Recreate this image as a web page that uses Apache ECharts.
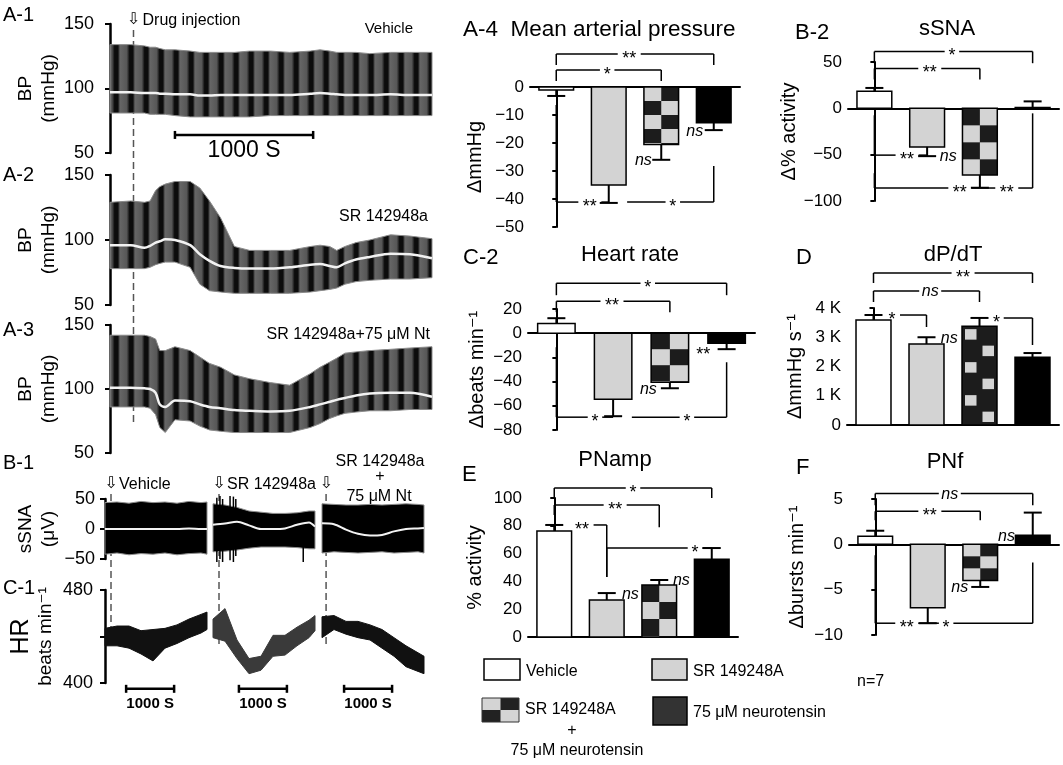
<!DOCTYPE html>
<html>
<head>
<meta charset="utf-8">
<script src="https://cdn.jsdelivr.net/npm/echarts@6/dist/echarts.min.js"></script>
<style>
  html, body { margin: 0; padding: 0; background: #fff; }
  #chart { width: 1063px; height: 765px; }
</style>
</head>
<body>
<div id="chart"></div>
<script>
const FONT = '"Liberation Sans", Arial, "DejaVu Sans", sans-serif'

// ---- BP traces (A-1..A-3): time (s), upper / lower envelope and mean (mmHg)
const BP_T = [0, 150, 250, 290, 330, 360, 400, 470, 580, 650, 720, 800, 900, 1010, 1160, 1300, 1450, 1520, 1590, 1640, 1700, 1780, 1880, 2030, 2170, 2330]
const A1_UP = [134, 134, 133, 132, 132, 131, 130, 130, 129, 128, 128, 128, 128, 129, 129, 128, 129, 130, 129, 128, 128, 128, 127, 128, 128, 128]
const A1_LO = [81, 81, 81, 80, 80, 80, 80, 79, 78, 78, 78, 78, 78, 78, 79, 79, 79, 79, 79, 79, 79, 79, 79, 79, 79, 79]
const A1_MN = [97, 97, 96.5, 96.5, 96.5, 96, 96, 95.5, 95.5, 94.5, 94.5, 95, 95, 95, 95, 95, 96, 96.5, 96, 95.5, 95, 95, 95, 95.5, 95, 95]
const A2_UP = [129, 130, 129, 130, 138, 141, 143, 145, 145, 140, 130, 117, 95, 92, 92, 92, 95, 96, 95, 92, 95, 98, 100, 104, 103, 101]
const A2_LO = [78, 78, 78, 79, 81, 82, 83, 83, 79, 66, 61, 60, 59, 59, 59, 59, 60, 61, 62, 63, 66, 68, 69, 70, 70, 71]
const A2_MN = [96, 96, 94, 95.5, 98, 99, 100.5, 100, 96, 89, 84, 80, 78.5, 78, 78, 79, 81, 81.5, 80, 79, 82, 85, 87, 89.5, 89, 86]
const A3_UP = [142, 142, 142, 141, 139, 130, 130, 133, 130, 125, 120, 117, 111, 108, 105, 103, 112, 117, 121, 124, 128, 129, 130, 131, 132, 133]
const A3_LO = [86, 86, 86, 85, 80, 70, 66, 76, 75, 71, 68, 67, 66, 66, 66, 66, 70, 73, 77, 79, 81, 82, 83, 83, 84, 84]
const A3_MN = [101, 101, 100.5, 100, 97, 88, 86, 91, 90.5, 88, 86, 85, 83.5, 83, 82.5, 83, 86, 88, 90, 91.5, 93, 95, 96.5, 97, 97, 94]
const INJECT_A = 170
const SCALE_A = [470, 1470]

// ---- sSNA (B-1) and HR (C-1) segments: time (s)
const SEG_T = [0, 250, 500, 750, 1000, 1250, 1500, 1750, 2000, 2125]
const SSNA1_UP = [44, 45, 43, 46, 44, 45, 43, 46, 44, 45]
const SSNA1_LO = [-42, -40, -43, -41, -42, -40, -43, -41, -40, -42]
const SSNA1_MN = [0, 0, 0, 0, 0, 0, 0, 1, 0, 0]
const SSNA2_UP = [42, 40, 36, 30, 28, 26, 26, 27, 30, 30]
const SSNA2_LO = [-38, -37, -35, -32, -30, -30, -30, -31, -33, -33]
const SSNA2_MN = [7, 9, 12, 6, 0, 0, 1, 7, 11, 4]
const SSNA2_SPIKES = [[80, 52, -55], [145, 55, -50], [200, 50, -55], [355, 55, -52], [425, 54, -55], [475, 50, -45], [1880, 18, -55]]
const SSNA3_UP = [42, 41, 40, 40, 41, 40, 41, 42, 41, 40]
const SSNA3_LO = [-40, -38, -39, -40, -39, -38, -40, -39, -38, -40]
const SSNA3_MN = [9.5, 8, -1, -8, -11, -10, -4, 0, 1, 1.5]
const HR1_UP = [447, 449, 449, 445, 446, 447, 450, 455, 459, 461]
const HR1_LO = [432, 432, 430, 425, 419, 430, 434, 439, 443, 446]
const HR2_UP = [455, 464, 437, 421, 423, 441, 441, 448, 454, 458]
const HR2_LO = [439, 436, 421, 408, 411, 423, 424, 432, 439, 445]
const HR3_UP = [457, 458, 453, 453, 450, 446, 439, 432, 426, 423]
const HR3_LO = [439, 446, 442, 439, 437, 430, 423, 414, 410, 408]
const INJECT_B = [125, 125, 85]
const SCALE_C = [[440, 1440], [540, 1540], [460, 1460]]

// ---- group bars: mean, error end; brackets [x1, x2, y, leg1, leg2, labelPos, label]; notes [x, y, text, align]
const MAP_MEAN = [-1.1, -35, -20.5, -12.8]
const MAP_ERR = [-3.2, -41.4, -26, -15.4]
const MAP_SIG = [[0, 3, 11.8, 7.9, 7.9, 1.39, '**'], [0, 2, 6.1, 2.1, 2.1, 0.97, '*'], [0, 1, -41.1, -6.4, null, 0.64, '**'], [1.35, 3, -41.1, null, -28.2, 2.22, '*']]
const MAP_NOTES = [[1.82, -26, 'ns', 'right'], [2.8, -15.4, 'ns', 'right']]

const SSNA_MEAN = [18.5, -41.6, -72, 0.8]
const SSNA_ERR = [22, -51.6, -85.7, 7.5]
const SSNA_SIG = [[0, 3, 61.3, 48.7, 48.7, 1.47, '*'], [0, 2, 43, 31.2, 31.2, 1.05, '**'], [0, 1, -50.5, -7.5, null, 0.62, '**'], [0, 2, -86, -70, null, 1.62, '**'], [2, 3, -86, null, -5.4, 2.51, '**']]
const SSNA_NOTES = [[1.24, -51, 'ns', 'left']]

const HR_MEAN = [8, -54.5, -40.5, -8.3]
const HR_ERR = [12.4, -68.6, -45.5, -13.2]
const HR_SIG = [[0, 3, 41.3, 31.4, 31.4, 1.61, '*'], [0, 2, 26.4, 17.4, 17.4, 0.98, '**'], [0, 1, -69.4, -11.6, null, 0.68, '*'], [1.33, 3, -69.4, null, -24, 2.3, '*']]
const HR_NOTES = [[1.77, -45.5, 'ns', 'right'], [2.71, -13.5, '**', 'right']]

const DPDT_MEAN = [3590, 2770, 3380, 2320]
const DPDT_ERR = [3760, 3000, 3660, 2460]
const DPDT_SIG = [[0, 3, 5197, 4855, 4855, 1.69, '**'], [0, 2, 4581, 4205, 4205, 1.07, 'ns'], [0.5, 1, 3760, null, 3350, 0.35, '*'], [2.44, 3, 3658, null, 2735, 2.32, '*']]
const DPDT_NOTES = [[1.27, 3000, 'ns', 'left']]

const PNAMP_MEAN = [76.3, 26.6, 37.4, 56]
const PNAMP_ERR = [80.6, 31.6, 41, 64]
const PNAMP_SIG = [[0, 3, 107.2, 100, 100, 1.5, '*'], [0, 2, 95, 87.8, 79, 1.16, '**'], [0.53, 1, 80.6, null, 43.2, 0.53, '**'], [1, 3, 64, 43.2, null, 2.68, '*']]
const PNAMP_NOTES = [[1.29, 31.6, 'ns', 'left'], [2.26, 41, 'ns', 'left']]

const PNF_MEAN = [0.9, -7, -4, 1]
const PNF_ERR = [1.5, -8.7, -4.7, 3.5]
const PNF_SIG = [[0, 3, 5.6, 4.3, 4.3, 1.42, 'ns'], [0, 2, 3.64, 2.65, 2.65, 1.04, '**'], [0, 1, -8.7, -1.2, null, 0.6, '**'], [1, 3, -8.7, null, -2, 1.35, '*']]
const PNF_NOTES = [[1.77, -4.7, 'ns', 'right'], [2.66, 1, 'ns', 'right']]

const PANELS = [
  { left: 530, top: 87, width: 210, height: 140, min: -50, max: 0, interval: 10, mean: MAP_MEAN, err: MAP_ERR, sig: MAP_SIG, notes: MAP_NOTES, name: 'ΔmmHg', nameGap: 45, cellH: 14, start: 0, inset: 0 },
  { left: 848, top: 62, width: 211, height: 139, min: -100, max: 50, interval: 50, mean: SSNA_MEAN, err: SSNA_ERR, sig: SSNA_SIG, notes: SSNA_NOTES, name: 'Δ% activity', nameGap: 45, cellH: 17, start: 1, inset: 0 },
  { left: 528, top: 309, width: 227, height: 121, min: -80, max: 20, interval: 20, mean: HR_MEAN, err: HR_ERR, sig: HR_SIG, notes: HR_NOTES, name: 'Δbeats min⁻¹', nameGap: 41, cellH: 16, start: 1, inset: 0 },
  { left: 847, top: 308, width: 212, height: 117, min: 0, max: 4000, interval: 1000, mean: DPDT_MEAN, err: DPDT_ERR, sig: DPDT_SIG, notes: DPDT_NOTES, name: 'ΔmmHg s⁻¹', nameGap: 42, cellH: 16.5, start: 0, inset: 3, kilo: true },
  { left: 528, top: 498, width: 210, height: 139, min: 0, max: 100, interval: 20, mean: PNAMP_MEAN, err: PNAMP_ERR, sig: PNAMP_SIG, notes: PNAMP_NOTES, name: '% activity', nameGap: 43, cellH: 17, start: 1, inset: 0 },
  { left: 849, top: 499, width: 210, height: 136, min: -10, max: 5, interval: 5, mean: PNF_MEAN, err: PNF_ERR, sig: PNF_SIG, notes: PNF_NOTES, name: 'Δbursts min⁻¹', nameGap: 42, cellH: 12, start: 0, inset: 0 }
]

function stripeImage () {
  const c = document.createElement('canvas')
  c.width = 15
  c.height = 10
  const g = c.getContext('2d')
  const grad = g.createLinearGradient(0, 0, 15, 0)
  grad.addColorStop(0, '#666')
  grad.addColorStop(0.45, '#575757')
  grad.addColorStop(0.64, '#0c0c0c')
  grad.addColorStop(0.86, '#0c0c0c')
  grad.addColorStop(1, '#666')
  g.fillStyle = grad
  g.fillRect(0, 0, 15, 10)
  return c
}
const STRIPES = { image: stripeImage(), repeat: 'repeat' }

const minus = v => (v < 0 ? '−' + Math.abs(v) : String(v))

const grid = [
  { left: 110, top: 24, width: 322, height: 129 },
  { left: 110, top: 175, width: 322, height: 130 },
  { left: 110, top: 325, width: 322, height: 128 },
  { left: 105, top: 499, width: 102, height: 60 },
  { left: 213, top: 499, width: 102, height: 60 },
  { left: 322, top: 499, width: 102, height: 60 },
  { left: 105, top: 590, width: 102, height: 93 },
  { left: 213, top: 590, width: 102, height: 93 },
  { left: 322, top: 590, width: 102, height: 93 }
]
PANELS.forEach(p => grid.push({ left: p.left, top: p.top, width: p.width, height: p.height }))

const xAxis = []
const yAxis = []
const series = []

function traceY (gi, min, max, interval, show, extra) {
  return Object.assign({
    gridIndex: gi, type: 'value', min, max, interval, show,
    axisLine: { show: true, lineStyle: { color: '#000', width: 2.5 } },
    axisTick: { show: true, length: 5, lineStyle: { color: '#000', width: 2 } },
    axisLabel: { fontSize: 18, color: '#000', fontFamily: FONT, margin: 5, formatter: minus },
    splitLine: { show: false },
    nameLocation: 'middle',
    nameTextStyle: { fontSize: 19, color: '#000', fontFamily: FONT, lineHeight: 23 }
  }, extra)
}

// envelope band: polygon through upper points then lower points (reversed)
function band (gi, t, up, lo, fill, edge) {
  return {
    type: 'custom', xAxisIndex: gi, yAxisIndex: gi, silent: true, clip: false, z: 1,
    data: [[t[0], up[0]]],
    renderItem: (params, api) => {
      const pts = t.map((x, i) => api.coord([x, up[i]]))
      for (let i = t.length - 1; i >= 0; i--) pts.push(api.coord([t[i], lo[i]]))
      return { type: 'polygon', shape: { points: pts }, style: { fill, stroke: edge, lineWidth: 1 } }
    }
  }
}

function meanLine (gi, t, mn, width) {
  return { type: 'line', xAxisIndex: gi, yAxisIndex: gi, data: t.map((x, i) => [x, mn[i]]), symbol: 'none', smooth: 0.3, lineStyle: { color: '#f2f2f2', width }, silent: true, z: 3 }
}

// A-1 .. A-3
const BP = [[A1_UP, A1_LO, A1_MN], [A2_UP, A2_LO, A2_MN], [A3_UP, A3_LO, A3_MN]]
BP.forEach((d, gi) => {
  xAxis.push({ gridIndex: gi, type: 'value', min: 0, max: 2330, show: false })
  yAxis.push(traceY(gi, 50, 150, 50, true, { offset: 11, name: 'BP\n(mmHg)', nameGap: 37 }))
  series.push(band(gi, BP_T, d[0], d[1], STRIPES, '#8a8a8a'))
  series.push(meanLine(gi, BP_T, d[2], 2.5))
})

// B-1
const SSNA = [[SSNA1_UP, SSNA1_LO, SSNA1_MN], [SSNA2_UP, SSNA2_LO, SSNA2_MN], [SSNA3_UP, SSNA3_LO, SSNA3_MN]]
SSNA.forEach((d, k) => {
  const gi = 3 + k
  xAxis.push({ gridIndex: gi, type: 'value', min: 0, max: 2125, show: false })
  yAxis.push(traceY(gi, -50, 50, 50, k === 0, { offset: 5, name: 'sSNA\n(μV)', nameGap: 35 }))
  series.push(band(gi, SEG_T, d[0], d[1], '#000', '#8c8c8c'))
  series.push(meanLine(gi, SEG_T, d[2], 2))
})
series.push({
  type: 'custom', xAxisIndex: 4, yAxisIndex: 4, data: SSNA2_SPIKES, silent: true, z: 2,
  renderItem: (params, api) => {
    const a = api.coord([api.value(0), api.value(1)])
    const b = api.coord([api.value(0), api.value(2)])
    return { type: 'line', shape: { x1: a[0], y1: a[1], x2: b[0], y2: b[1] }, style: { stroke: '#000', lineWidth: 1.5 } }
  }
})

// C-1
const HR = [[HR1_UP, HR1_LO, '#111'], [HR2_UP, HR2_LO, '#3a3a3a'], [HR3_UP, HR3_LO, '#111']]
HR.forEach((d, k) => {
  const gi = 6 + k
  xAxis.push({ gridIndex: gi, type: 'value', min: 0, max: 2125, show: false })
  yAxis.push(traceY(gi, 400, 480, 40, k === 0, {
    offset: 7,
    name: '{a|HR}\n{b|beats min⁻¹}',
    nameGap: 41,
    axisLabel: { fontSize: 18, color: '#000', fontFamily: FONT, margin: 5, formatter: v => (v === 440 ? '' : String(v)) },
    nameTextStyle: { color: '#000', fontFamily: FONT, rich: { a: { fontSize: 25, fontFamily: FONT, lineHeight: 28 }, b: { fontSize: 19, fontFamily: FONT, lineHeight: 22 } } }
  }))
  series.push(band(gi, SEG_T, d[0], d[1], d[2], d[2]))
})

// bar panels
function labelWidth (s) { return s === 'ns' ? 16 : s.length * 8.5 }
function textStyle (s, x, y, align) {
  const star = s.indexOf('*') >= 0
  return {
    text: s, x, y: y + (star ? 5 : 1), align, verticalAlign: 'middle', fill: '#000',
    fontSize: star ? 18 : 16, fontStyle: star ? 'normal' : 'italic', fontFamily: FONT
  }
}

function barRender (p) {
  return (params, api) => {
    const i = api.value(0)
    const a = api.coord([i, 0])
    const b = api.coord([i, api.value(1)])
    const bw = api.size([1, 0])[0] * 0.66
    const x = a[0] - bw / 2
    const y = Math.min(a[1], b[1])
    const h = Math.abs(b[1] - a[1])
    const fills = ['#fff', '#d3d3d3', '#1c1c1c', '#000']
    const children = [{ type: 'rect', shape: { x, y, width: bw, height: h }, style: { fill: fills[i] } }]
    if (i === 2) {
      const cw = bw / 2
      const rows = Math.ceil(h / p.cellH)
      for (let r = 0; r < rows; r++) {
        for (let c = 0; c < 2; c++) {
          if ((r + c + p.start) % 2 !== 0) continue
          const cy = y + r * p.cellH
          const ch = Math.min(p.cellH, y + h - cy)
          const ins = p.inset
          children.push({ type: 'rect', shape: { x: x + c * cw + ins, y: cy + ins, width: cw - 2 * ins, height: Math.max(0, ch - 2 * ins) }, style: { fill: '#d4d4d4' } })
        }
      }
    }
    children.push({ type: 'rect', shape: { x, y, width: bw, height: h }, style: { fill: 'none', stroke: '#000', lineWidth: 1.5 } })
    return { type: 'group', children }
  }
}

function errRender (params, api) {
  const i = api.value(0)
  const a = api.coord([i, api.value(1)])
  const b = api.coord([i, api.value(2)])
  const st = { stroke: '#000', lineWidth: 2 }
  return {
    type: 'group',
    children: [
      { type: 'line', shape: { x1: a[0], y1: a[1], x2: b[0], y2: b[1] }, style: st },
      { type: 'line', shape: { x1: b[0] - 9, y1: b[1], x2: b[0] + 9, y2: b[1] }, style: st }
    ]
  }
}

function sigRender (p) {
  return (params, api) => {
    const [x1, x2, yv, leg1, leg2, lp, label] = p.sig[params.dataIndex]
    const a = api.coord([x1, yv])
    const b = api.coord([x2, yv])
    const lx = api.coord([lp, yv])[0]
    const w = labelWidth(label)
    const g0 = lx - w / 2 - 3
    const g1 = lx + w / 2 + 3
    const st = { stroke: '#000', lineWidth: 1.5 }
    const children = []
    const seg = (u, v) => { if (v > u) children.push({ type: 'line', shape: { x1: u, y1: a[1], x2: v, y2: a[1] }, style: st }) }
    seg(a[0], Math.min(g0, b[0]))
    seg(Math.max(g1, a[0]), b[0])
    if (leg1 !== null) {
      const c = api.coord([x1, leg1])
      children.push({ type: 'line', shape: { x1: a[0], y1: a[1], x2: c[0], y2: c[1] }, style: st })
    }
    if (leg2 !== null) {
      const c = api.coord([x2, leg2])
      children.push({ type: 'line', shape: { x1: b[0], y1: b[1], x2: c[0], y2: c[1] }, style: st })
    }
    children.push({ type: 'text', style: textStyle(label, lx, a[1], 'center') })
    return { type: 'group', children }
  }
}

function noteRender (p) {
  return (params, api) => {
    const [xc, yv, txt, align] = p.notes[params.dataIndex]
    const c = api.coord([xc, yv])
    return { type: 'text', style: textStyle(txt, c[0], c[1], align) }
  }
}

PANELS.forEach((p, k) => {
  const gi = 9 + k
  xAxis.push({
    gridIndex: gi, type: 'value', min: -0.5, max: 3.5,
    axisLine: { show: true, onZero: true, lineStyle: { color: '#000', width: 2 } },
    axisTick: { show: false }, axisLabel: { show: false }, splitLine: { show: false }
  })
  yAxis.push({
    gridIndex: gi, type: 'value', min: p.min, max: p.max, interval: p.interval,
    axisLine: { show: true, lineStyle: { color: '#000', width: 2 } },
    axisTick: { show: true, length: 4, lineStyle: { color: '#000', width: 2 } },
    axisLabel: { fontSize: 17, color: '#000', fontFamily: FONT, margin: 6, formatter: p.kilo ? v => (v === 0 ? '0' : v / 1000 + ' K') : minus },
    splitLine: { show: false },
    name: p.name, nameLocation: 'middle', nameGap: p.nameGap,
    nameTextStyle: { fontSize: 20, color: '#000', fontFamily: FONT }
  })
  const common = { type: 'custom', xAxisIndex: gi, yAxisIndex: gi, clip: false, silent: true }
  series.push(Object.assign({ data: p.mean.map((v, i) => [i, v]), renderItem: barRender(p) }, common))
  series.push(Object.assign({ data: p.mean.map((v, i) => [i, v, p.err[i]]), renderItem: errRender }, common))
  series.push(Object.assign({ data: p.sig.map(d => [d[0], d[2]]), renderItem: sigRender(p) }, common))
  series.push(Object.assign({ data: p.notes.map(d => [d[0], d[1]]), renderItem: noteRender(p) }, common))
})

const chart = echarts.init(document.getElementById('chart'))
chart.setOption({ animation: false, grid, xAxis, yAxis, series })

// annotations (text, dashed injection lines, scale bars, legend)
const px = (gi, t, v) => chart.convertToPixel({ gridIndex: gi }, [t, v])
function txt (s, x, y, size, opts) {
  return { type: 'text', silent: true, style: Object.assign({ text: s, x, y, fontSize: size, fontFamily: FONT, fill: '#000', align: 'left', verticalAlign: 'middle' }, opts || {}) }
}
function ln (x1, y1, x2, y2, style) {
  return { type: 'line', silent: true, shape: { x1, y1, x2, y2 }, style: Object.assign({ stroke: '#000', lineWidth: 2.5 }, style || {}) }
}
const ARROW = { fontFamily: '"DejaVu Sans", sans-serif', align: 'center' }
const g = []

// panel labels
g.push(txt('A-1', 3, 15, 20), txt('A-2', 3, 175, 20), txt('A-3', 3, 330, 20), txt('B-1', 3, 463, 20), txt('C-1', 3, 588, 20))
g.push(txt('A-4  Mean arterial pressure', 463, 30, 22.5))
g.push(txt('B-2', 795, 33, 22), txt('sSNA', 947, 29, 22, { align: 'center' }))
g.push(txt('C-2', 463, 258, 22), txt('Heart rate', 630, 255, 22, { align: 'center' }))
g.push(txt('D', 796, 258, 22), txt('dP/dT', 953, 255, 22, { align: 'center' }))
g.push(txt('E', 462, 475, 22), txt('PNamp', 615, 460, 22, { align: 'center' }))
g.push(txt('F', 796, 468, 22), txt('PNf', 945, 462, 22, { align: 'center' }))

// A traces annotations
const xa = px(0, INJECT_A, 100)[0]
g.push(ln(xa, 30, xa, 425, { stroke: '#555', lineWidth: 1.5, lineDash: [7, 4] }))
g.push(txt('⇩', xa, 20, 16, ARROW), txt('Drug injection', xa + 9, 21, 16))
g.push(txt('Vehicle', 413, 29, 15, { align: 'right' }))
g.push(txt('SR 142948a', 428, 217, 16, { align: 'right' }))
g.push(txt('SR 142948a+75 μM Nt', 430, 335, 16, { align: 'right' }))
{
  const a = px(0, SCALE_A[0], 64)
  const b = px(0, SCALE_A[1], 64)
  g.push(ln(a[0], a[1], b[0], b[1]), ln(a[0], a[1] - 4, a[0], a[1] + 4), ln(b[0], b[1] - 4, b[0], b[1] + 4))
  g.push(txt('1000 S', (a[0] + b[0]) / 2, a[1] + 16, 23, { align: 'center' }))
}

// B-1 / C-1 annotations
INJECT_B.forEach((t, k) => {
  const x = px(3 + k, t, 0)[0]
  g.push(ln(x, 494, x, 648, { stroke: '#555', lineWidth: 1.5, lineDash: [7, 4] }))
  g.push(txt('⇩', x, 484, 16, ARROW))
})
g.push(txt('Vehicle', 119, 485, 16), txt('SR 142948a', 227, 485, 16))
g.push(txt('SR 142948a', 380, 462, 16, { align: 'center' }), txt('+', 380, 477, 16, { align: 'center' }), txt('75 μM Nt', 379, 497, 16, { align: 'center' }))
SCALE_C.forEach((s, k) => {
  const a = px(6 + k, s[0], 395)
  const b = px(6 + k, s[1], 395)
  g.push(ln(a[0], a[1], b[0], b[1]), ln(a[0], a[1] - 4, a[0], a[1] + 4), ln(b[0], b[1] - 4, b[0], b[1] + 4))
  g.push(txt('1000 S', (a[0] + b[0]) / 2, a[1] + 15, 15, { align: 'center', fontWeight: 'bold' }))
})

// legend
const box = (x, y, w, h, fill) => ({ type: 'rect', silent: true, shape: { x, y, width: w, height: h }, style: { fill, stroke: '#000', lineWidth: 1.5 } })
g.push(box(484, 659, 36, 21, '#fff'), txt('Vehicle', 526, 672, 16))
g.push(box(652, 659, 35, 21, '#d3d3d3'), txt('SR 149248A', 693, 672, 16))
g.push(txt('n=7', 857, 682, 16))
g.push({ type: 'rect', silent: true, shape: { x: 482, y: 698, width: 37, height: 24 }, style: { fill: '#222' } })
g.push({ type: 'rect', silent: true, shape: { x: 482, y: 698, width: 18.5, height: 12 }, style: { fill: '#d4d4d4' } })
g.push({ type: 'rect', silent: true, shape: { x: 500.5, y: 710, width: 18.5, height: 12 }, style: { fill: '#d4d4d4' } })
g.push({ type: 'rect', silent: true, shape: { x: 482, y: 698, width: 37, height: 24 }, style: { fill: 'none', stroke: '#333', lineWidth: 1 } })
g.push(txt('SR 149248A', 525, 710, 16), txt('+', 572, 731, 16, { align: 'center' }), txt('75 μM neurotensin', 577, 751, 16, { align: 'center' }))
g.push(box(653, 697, 34, 28, '#333'), txt('75 μM neurotensin', 693, 713, 16))

chart.setOption({ graphic: g })
</script>
</body>
</html>
